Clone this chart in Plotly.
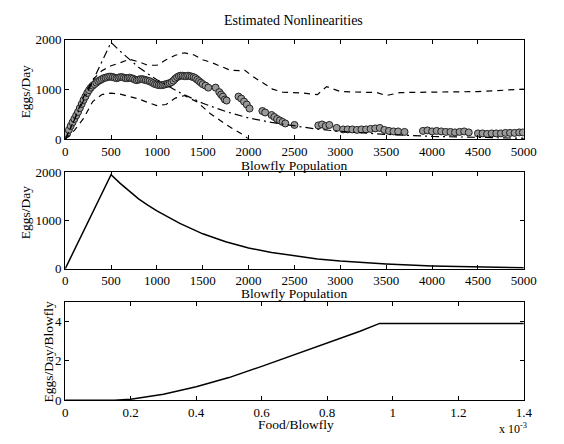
import plotly.graph_objects as go

# ---------------- data ----------------
# true nonlinearity (egg production vs population)
pop_true = [0, 500, 600, 700, 800, 900, 1000, 1250, 1500, 1750, 2000, 2250, 2500, 2750, 3000, 3500, 4000, 4500, 5000]
eggs_true = [0, 1950, 1770, 1600, 1450, 1320, 1200, 940, 725, 560, 430, 340, 265, 205, 160, 100, 60, 36, 22]

# upper confidence bound
pop_upper = [0, 100, 200, 300, 400, 500, 600, 700, 800, 900, 1000, 1100, 1200, 1300, 1400, 1500, 1600, 1700,
             1800, 1900, 1950, 2050, 2150, 2260, 2370, 2600, 2750, 2850, 3000, 3200, 3400, 3500, 3650, 4000, 4500, 5000]
eggs_upper = [0, 400, 850, 1200, 1380, 1480, 1540, 1610, 1560, 1490, 1490, 1600, 1690, 1740, 1700, 1600, 1540, 1460,
              1390, 1380, 1400, 1260, 1140, 1010, 950, 930, 900, 1060, 960, 950, 940, 880, 940, 950, 960, 1010]

# lower confidence bound
pop_lower = [0, 100, 200, 300, 400, 500, 600, 700, 800, 900, 1000, 1100, 1200, 1300, 1440, 1580, 1760, 1955, 1990]
eggs_lower = [0, 180, 420, 760, 900, 930, 910, 870, 815, 740, 680, 700, 830, 880, 750, 520, 290, 75, 20]

# estimated nonlinearity (circles)
est_pop = [20, 40, 60, 80, 100, 120, 140, 160, 180, 200, 220, 240, 260, 280, 300, 320, 340, 360, 380, 400,
           420, 440, 460, 480, 500, 520, 540, 560, 580, 600, 620, 640, 660, 680, 700, 720, 740, 760, 780, 800,
           820, 840, 860, 880, 900, 920, 940, 960, 980, 1000, 1020, 1040, 1060, 1080, 1100, 1120, 1140, 1160,
           1180, 1200, 1220, 1240, 1260, 1280, 1300, 1320, 1340, 1360, 1380, 1400, 1420, 1440, 1460, 1480,
           1500, 1530, 1560, 1640, 1680, 1700, 1720, 1740, 1760, 1890, 1920, 1950, 1980, 2010, 2150, 2180,
           2250, 2280, 2310, 2340, 2370, 2400, 2500, 2760, 2800, 2840, 2880, 2960, 3030, 3080, 3130, 3180,
           3230, 3280, 3330, 3380, 3430, 3480, 3530, 3580, 3630, 3700, 3900, 3950, 4000, 4050, 4100, 4150,
           4200, 4250, 4300, 4350, 4400, 4500, 4550, 4600, 4650, 4700, 4750, 4800, 4850, 4900, 4950, 4990]
est_eggs = [110, 190, 270, 340, 410, 480, 550, 630, 710, 790, 860, 930, 990, 1040, 1080, 1110, 1140, 1170, 1190, 1210,
            1230, 1240, 1250, 1260, 1260, 1250, 1240, 1230, 1240, 1250, 1250, 1240, 1230, 1230, 1240, 1230, 1220, 1200, 1190, 1200,
            1210, 1210, 1200, 1190, 1180, 1170, 1150, 1130, 1110, 1100, 1090, 1090, 1090, 1100, 1110, 1120, 1130, 1150,
            1180, 1220, 1250, 1270, 1280, 1280, 1270, 1270, 1280, 1270, 1260, 1250, 1230, 1200, 1170, 1140,
            1110, 1080, 1040, 1040, 950, 900, 860, 800, 780, 860, 820, 760, 700, 620, 570, 540,
            490, 450, 410, 380, 350, 320, 290, 280, 300, 270, 290, 230, 200, 200, 200, 190,
            200, 200, 210, 220, 230, 190, 170, 160, 160, 150, 170, 180, 160, 170, 160, 150,
            150, 140, 150, 160, 140, 120, 120, 110, 120, 120, 120, 130, 130, 130, 140, 140]

# fecundity vs food per blowfly
food = [0, 0.00015, 0.0002, 0.0003, 0.0004, 0.0005, 0.0006, 0.0007, 0.0008, 0.0009, 0.00096, 0.0014]
fecundity = [0, 0, 0.05, 0.3, 0.68, 1.15, 1.72, 2.3, 2.9, 3.5, 3.9, 3.9]

pop_ticks = [0, 500, 1000, 1500, 2000, 2500, 3000, 3500, 4000, 4500, 5000]
eggs_ticks = [0, 1000, 2000]
food_ticks = [0, 0.0002, 0.0004, 0.0006, 0.0008, 0.0010, 0.0012, 0.0014]
food_ticktext = ["0", "0.2", "0.4", "0.6", "0.8", "1", "1.2", "1.4"]
fec_ticks = [0, 2, 4]

# ---------------- figure ----------------
FONT = "Liberation Serif, Times New Roman, serif"
W, H = 564, 444
fig = go.Figure()

dash = "6px,5px"
fig.add_trace(go.Scatter(x=est_pop, y=est_eggs, mode="markers", xaxis="x", yaxis="y",
                         marker=dict(symbol="circle", size=7, color="#9a9a9a",
                                     line=dict(color="#222", width=1)), showlegend=False))
fig.add_trace(go.Scatter(x=pop_upper, y=eggs_upper, mode="lines", xaxis="x", yaxis="y",
                         line=dict(color="black", width=1.2, dash=dash), showlegend=False))
fig.add_trace(go.Scatter(x=pop_lower, y=eggs_lower, mode="lines", xaxis="x", yaxis="y",
                         line=dict(color="black", width=1.2, dash=dash), showlegend=False))
fig.add_trace(go.Scatter(x=pop_true, y=eggs_true, mode="lines", xaxis="x", yaxis="y",
                         line=dict(color="black", width=1.2, dash="8px,4px,2px,4px"), showlegend=False))

fig.add_trace(go.Scatter(x=pop_true, y=eggs_true, mode="lines", xaxis="x2", yaxis="y2",
                         line=dict(color="black", width=1.5), showlegend=False))
fig.add_trace(go.Scatter(x=food, y=fecundity, mode="lines", xaxis="x3", yaxis="y3",
                         line=dict(color="black", width=1.5), showlegend=False))

xd = [64 / W, 536 / W]


def ydom(top, bottom):
    return [1 - bottom / H, 1 - top / H]


axis_common = dict(showline=True, linecolor="black", linewidth=1, mirror="ticks", ticks="inside",
                   ticklen=4, tickcolor="black", showgrid=False, zeroline=False,
                   tickfont=dict(family=FONT, size=13, color="black"))

fig.update_layout(
    width=W, height=H, margin=dict(l=0, r=0, t=0, b=0),
    paper_bgcolor="white", plot_bgcolor="white",
    xaxis=dict(domain=xd, range=[0, 5000], tickvals=pop_ticks, anchor="y", **axis_common),
    yaxis=dict(domain=ydom(34, 137), range=[0, 2000], tickvals=eggs_ticks, anchor="x", **axis_common),
    xaxis2=dict(domain=xd, range=[0, 5000], tickvals=pop_ticks, anchor="y2", **axis_common),
    yaxis2=dict(domain=ydom(171, 271), range=[0, 2000], tickvals=eggs_ticks, anchor="x2", **axis_common),
    xaxis3=dict(domain=xd, range=[0, 0.0014], tickvals=food_ticks, ticktext=food_ticktext, anchor="y3", **axis_common),
    yaxis3=dict(domain=ydom(305, 407), range=[0, 5], tickvals=fec_ticks, anchor="x3", **axis_common),
)

tf = dict(family=FONT, size=13.5, color="black")
anns = [
    dict(text="Estimated Nonlinearities", x=299 / W, y=1 - 14 / H, font=dict(family=FONT, size=14, color="black")),
    dict(text="Blowfly Population", x=299 / W, y=1 - 164 / H, font=tf),
    dict(text="Blowfly Population", x=299 / W, y=1 - 297 / H, font=tf),
    dict(text="Food/Blowfly", x=302 / W, y=1 - 432 / H, font=tf),
    dict(text="x 10<sup>-3</sup>", x=525 / W, y=1 - 436 / H, font=dict(family=FONT, size=12, color="black")),
    dict(text="Eggs/Day", x=23 / W, y=1 - 88 / H, textangle=-90, font=tf),
    dict(text="Eggs/Day", x=23 / W, y=1 - 213 / H, textangle=-90, font=tf),
    dict(text="Eggs/Day/Blowfly", x=47 / W, y=1 - 357 / H, textangle=-90, font=tf),
]
for a in anns:
    fig.add_annotation(xref="paper", yref="paper", showarrow=False, xanchor="center", yanchor="middle", **a)

fig.write_html("out.html", config={"displayModeBar": False},
               post_script="document.body.style.margin='0';document.body.style.overflow='hidden';")
